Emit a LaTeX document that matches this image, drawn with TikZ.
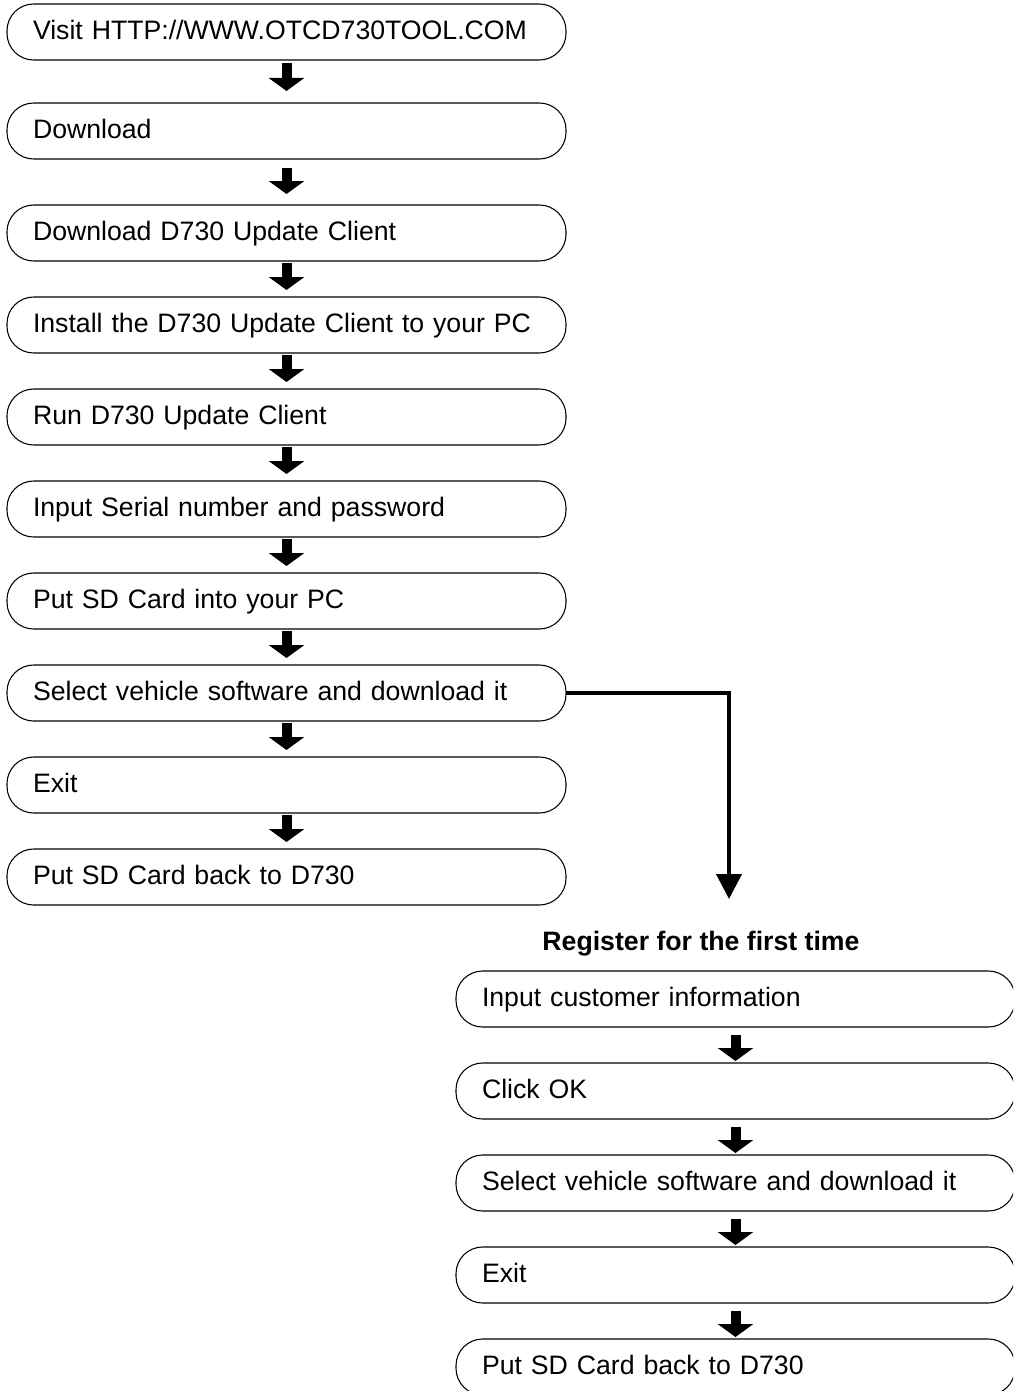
\documentclass[tikz,border=0pt]{standalone}
\usepackage{fontspec}
\setmainfont{Liberation Sans}
\usepackage{tikz}
\usetikzlibrary{positioning, arrows.meta}

\begin{document}
\begin{tikzpicture}[
  x=0.75pt, y=0.75pt,
  node distance=27pt,
  stage/.style={draw, line width=0.8pt, rounded corners=20pt, outer sep=0pt,
                minimum height=42pt, text width=380.25pt, inner xsep=19.5pt,
                align=left, text height=1.2em, text depth=0.1em,
                font=\fontsize{20}{24}\selectfont},
  flow/.style={line width=7.5pt, -{Triangle[width=26.25pt, length=9.75pt]},
               shorten <=1.5pt, shorten >=5.25pt},
  jump/.style={line width=3pt, -{Triangle[width=18.75pt, length=18.75pt]}}
]
\useasboundingbox (0,0) rectangle (1013,-1391);
\clip (0,0) rectangle (1013,-1391);

% main update path
\node[stage] (s1) at (286.5,-32) {Visit HTTP://WWW.OTCD730TOOL.COM};
\node[stage, below=32.25pt of s1] (s2) {Download};
\node[stage, below=34.5pt of s2] (s3) {Download D730 Update Client};
\node[stage, below=of s3] (s4) {Install the D730 Update Client to your PC};
\node[stage, below=of s4] (s5) {Run D730 Update Client};
\node[stage, below=of s5] (s6) {Input Serial number and password};
\node[stage, below=of s6] (s7) {Put SD Card into your PC};
\node[stage, below=of s7] (s8) {Select vehicle software and download it};
\node[stage, below=of s8] (s9) {Exit};
\node[stage, below=of s9] (s10) {Put SD Card back to D730};

\draw[flow, shorten <=2.25pt, shorten >=9pt] (s1) -- (s2);
\draw[flow, shorten <=6.75pt, shorten >=8.25pt] (s2) -- (s3);
\foreach \a/\b in {s3/s4, s4/s5, s5/s6, s6/s7, s7/s8, s8/s9, s9/s10}
  \draw[flow] (\a) -- (\b);

% first registration
\coordinate (regend) at (729,-899);
\draw[jump] (s8.east) -| (regend);

\node[font=\fontsize{20}{24}\selectfont\bfseries] (title) at (701,-944) {Register for the first time};
\node[stage] (r1) at (735.5,-999) {Input customer information};
\node[stage, below=of r1] (r2) {Click OK};
\node[stage, below=of r2] (r3) {Select vehicle software and download it};
\node[stage, below=of r3] (r4) {Exit};
\node[stage, below=of r4] (r5) {Put SD Card back to D730};

\foreach \a/\b in {r1/r2, r2/r3, r3/r4, r4/r5}
  \draw[flow, shorten <=6pt, shorten >=1.5pt] (\a) -- (\b);
\end{tikzpicture}
\end{document}
